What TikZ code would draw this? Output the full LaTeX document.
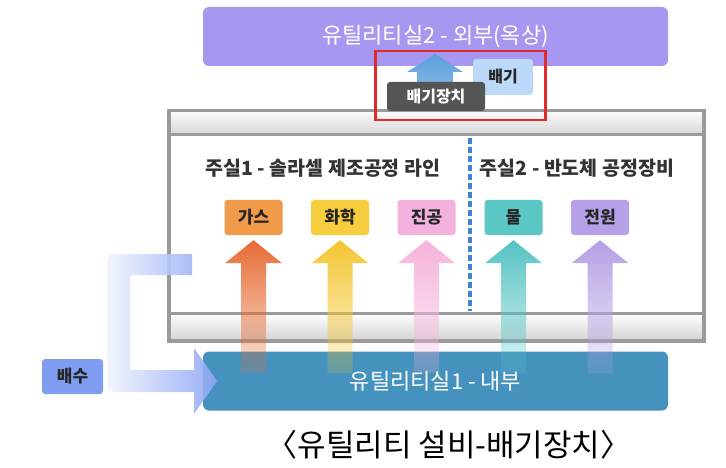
\documentclass[tikz,border=0pt]{standalone}
\usepackage{fontspec}
\setmainfont{Noto Sans CJK KR}
\usetikzlibrary{calc,fadings}
\definecolor{topbox}{HTML}{A797F0}
\definecolor{botbox}{HTML}{4692BE}
\definecolor{gasc}{HTML}{F19A4A}
\definecolor{gasarrow}{HTML}{E76B33}
\definecolor{chemc}{HTML}{F6CD3E}
\definecolor{chemarrow}{HTML}{F3C632}
\definecolor{vacc}{HTML}{F3B2DD}
\definecolor{vacarrow}{HTML}{F5B3DB}
\definecolor{watc}{HTML}{5BC8C5}
\definecolor{watarrow}{HTML}{55C3C3}
\definecolor{powc}{HTML}{B6A1E8}
\definecolor{powarrow}{HTML}{B5A0E6}
\definecolor{drainc}{HTML}{7F9DF1}
\definecolor{ublue}{HTML}{8CA5F5}
\definecolor{exblue}{HTML}{5B9FDC}
\definecolor{exlight}{HTML}{BCD9F9}
\definecolor{exdark}{HTML}{555555}
\definecolor{redc}{HTML}{E12A2A}
\definecolor{dashc}{HTML}{3F84D4}
\definecolor{framegray}{HTML}{9A9A9A}
\definecolor{bandgray}{HTML}{D6D6D6}
\definecolor{textdark}{HTML}{333333}
\tikzfading[name=fadedown, top color=transparent!0, bottom color=transparent!82]
\begin{document}
\begin{tikzpicture}[x=1pt,y=-1pt,
  bigbox/.style={rounded corners=6pt, inner sep=0pt, text=white, minimum width=465pt, minimum height=59pt, font=\fontsize{22}{26}\selectfont},
  tag/.style={rounded corners=3pt, minimum width=58pt, minimum height=35pt, inner sep=0pt, font=\fontsize{17}{20}\selectfont\bfseries, text=black!85},
  heading/.style={text=textdark, inner sep=0pt, font=\fontsize{19.5}{23}\selectfont\bfseries},
  bandline/.style={framegray, line width=3pt}]
\useasboundingbox (0,0) rectangle (726,468);

% main frame
\fill[white] (167,109) rectangle (702,339);
\shade[top color=white, bottom color=bandgray] (167,109) rectangle (702,135);
\shade[top color=white, bottom color=bandgray] (167,313) rectangle (702,339);
\draw[bandline] (167,135) -- (702,135);
\draw[bandline] (167,313) -- (702,313);
\node[draw=framegray, line width=3.5pt, minimum width=535pt, minimum height=230pt, inner sep=0pt, anchor=north west] (frame) at (167,109) {};
\coordinate (dtop) at (470,138);
\coordinate (dbot) at (470,311);
\draw[dashc, line width=3.2pt, dash pattern=on 6pt off 3pt] (dtop) -- (dbot);

\node[heading] (room1) at (323,168) {주실1 - 솔라셀 제조공정 라인};
\node[heading] (room2) at (577,168) {주실2 - 반도체 공정장비};

% top utility room
\node[bigbox, fill=topbox] (util2) at (435.5,36.5) {유틸리티실2 - 외부(옥상)};

% exhaust device
\coordinate (extip) at (435,54);
\shade[top color=exblue, bottom color=exblue!75] (extip) -- ++(28,18) -- ++(-10,0) -- ++(0,18) -- ++(-36,0) -- ++(0,-18) -- ++(-10,0) -- cycle;
\node[tag, fill=exlight, minimum width=60pt, minimum height=36pt, font=\fontsize{16}{19}\selectfont\bfseries] (exh) at (503,77) {배기};
\node[tag, fill=exdark, text=white, minimum width=98pt, minimum height=29pt, font=\fontsize{16}{19}\selectfont\bfseries] (exdev) at (436,96.5) {배기장치};
\node[draw=redc, line width=2.5pt, minimum width=170pt, minimum height=69pt, inner sep=0pt, anchor=north west] (hl) at (374,50) {};

% bottom utility room
\node[bigbox, fill=botbox] (util1) at (435.5,381) {유틸리티실1 - 내부};

% utility labels
\node[tag, fill=gasc] (ga) at (253.5,217.5) {가스};
\node[tag, fill=chemc] (chem) at (340,217.5) {화학};
\node[tag, fill=vacc] (vac) at (426.5,217.5) {진공};
\node[tag, fill=watc] (wat) at (513.5,217.5) {물};
\node[tag, fill=powc] (pow) at (600,217.5) {전원};

\foreach \n/\c in {ga/gasarrow, chem/chemarrow, vac/vacarrow, wat/watarrow, pow/powarrow}{
  \fill[\c, path fading=fadedown] ($(\n.south)+(0,5)$) -- ++(28.5,23) -- ++(-16,0) -- ++(0,110) -- ++(-25,0) -- ++(0,-110) -- ++(-16,0) -- cycle;
}

% drain arrow
\shade[left color=ublue!12, right color=ublue, fill opacity=0.9]
  (192,254) -- (121,254) .. controls (107,254) .. (107,268) -- (107,378) .. controls (107,392) .. (121,392)
  -- (194,392) -- (194,414) -- (217,381) -- (194,348) -- (194,370) -- (136,370) .. controls (130,370) .. (130,364)
  -- (130,281) .. controls (130,275) .. (136,275) -- (192,275) -- cycle;
\node[tag, fill=drainc, minimum width=61pt] (drain) at (72.5,376.5) {배수};

\node[inner sep=0pt, font=\fontsize{31}{36}\selectfont] (cap) at (449,445) {〈유틸리티 설비-배기장치〉};
\end{tikzpicture}
\end{document}
